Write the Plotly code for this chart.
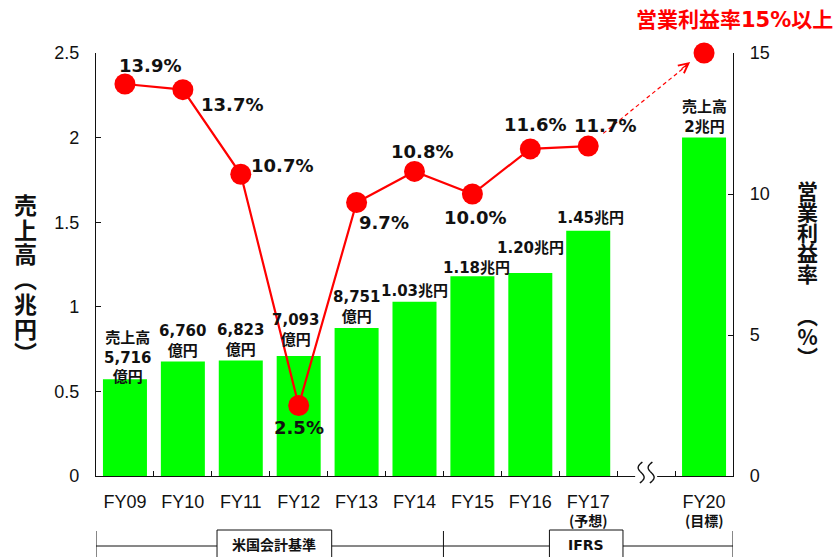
import math
import plotly.graph_objects as go

# ---------------- data ----------------
categories = ["FY09", "FY10", "FY11", "FY12", "FY13", "FY14", "FY15", "FY16", "FY17", " ", "FY20"]
x_tick_labels = ["FY09", "FY10", "FY11", "FY12", "FY13", "FY14", "FY15", "FY16", "FY17", "", "FY20"]
x_sub_labels = {"FY17": "(予想)", "FY20": "(目標)"}
sales = [0.5716, 0.6760, 0.6823, 0.7093, 0.8751, 1.03, 1.18, 1.20, 1.45, None, 2.0]
sales_labels = ["売上高<br>5,716<br>億円", "6,760<br>億円", "6,823<br>億円", "7,093<br>億円",
                "8,751<br>億円", "1.03兆円", "1.18兆円", "1.20兆円", "1.45兆円", "", "売上高<br>2兆円"]
margin_cats = ["FY09", "FY10", "FY11", "FY12", "FY13", "FY14", "FY15", "FY16", "FY17"]
op_margin = [13.9, 13.7, 10.7, 2.5, 9.7, 10.8, 10.0, 11.6, 11.7]
op_margin_labels = ["13.9%", "13.7%", "10.7%", "2.5%", "9.7%", "10.8%", "10.0%", "11.6%", "11.7%"]
target_cat = "FY20"
target_margin = 15
target_text = "営業利益率15%以上"
left_ticks = [0, 0.5, 1, 1.5, 2, 2.5]
right_ticks = [0, 5, 10, 15]
standard_names = ["米国会計基準", "IFRS"]
left_title = ["売", "上", "高", "︵", "兆", "円", "︶"]
right_title = ["営", "業", "利", "益", "率", " ", "︵", "%", "︶"]

# ---------------- styling / placement ----------------
GREEN = "#00FF00"
RED = "#FF0000"
NUM_FONT = "DejaVu Sans, Noto Sans CJK JP"
CJK_FONT = "Noto Sans CJK JP"
TICK_FONT = "Liberation Sans, Arial"

# pixel offsets of percent labels (dx right, dy down)
pct_offsets = [(25, -19), (49, 15), (41, -9), (0, 22), (27, 20), (7, -20), (3, 23), (5, -24), (17, -21)]
# pixel shifts of bar labels (dx right, dy up)
bar_label_shift = [(3, -9), (0, 0), (0, 0), (-3, 5), (0, 0), (0, 0), (4, -3), (0, 14), (2, 2), (0, 0), (0, 0)]

W, H = 837, 557
ML, MR, MT, MB = 96, 104, 53, 81
PW, PH = W - ML - MR, H - MT - MB


def px_to_paper_y(py):
    return (H - MB - py) / PH


def px_to_paper_x(px):
    return (px - ML) / PW


def vertical_text(chars, glyph_size):
    return "<br>".join(f"<span style='font-size:{glyph_size}px'>{c}</span>" for c in chars)


def squiggle_path(cx, top=14, bottom=-7, amp=3.6, steps=24):
    pts = []
    for k in range(steps + 1):
        t = k / steps
        y = top + (bottom - top) * t
        x = cx - amp * math.sin(2 * math.pi * t) + 2.5 * (0.5 - t)
        pts.append(f"{x:.2f} {y:.2f}")
    return "M " + " L ".join(pts)


fig = go.Figure()

fig.add_trace(go.Bar(
    x=categories, y=sales, width=0.76,
    marker=dict(color=GREEN, line=dict(width=0)),
    yaxis="y", hoverinfo="skip", showlegend=False,
))

fig.add_trace(go.Scatter(
    x=margin_cats, y=op_margin, mode="lines+markers", yaxis="y2",
    line=dict(color=RED, width=2.2),
    marker=dict(color=RED, size=21),
    cliponaxis=False, showlegend=False, hoverinfo="skip",
))

fig.add_trace(go.Scatter(
    x=[target_cat], y=[target_margin], mode="markers", yaxis="y2",
    marker=dict(color=RED, size=21), cliponaxis=False, showlegend=False, hoverinfo="skip",
))

annotations = []
shapes = []

# bar value labels
for i, (c, v, t) in enumerate(zip(categories, sales, sales_labels)):
    if v is None or not t:
        continue
    dx, dy = bar_label_shift[i]
    annotations.append(dict(
        x=c, y=v, xref="x", yref="y", text=t, showarrow=False,
        yanchor="bottom", xanchor="center", xshift=dx, yshift=dy,
        font=dict(family=NUM_FONT, size=15, color="#111", weight="bold"),
    ))

# percent labels
for (c, v, t), (dx, dy) in zip(zip(margin_cats, op_margin, op_margin_labels), pct_offsets):
    annotations.append(dict(
        x=c, y=v, xref="x", yref="y2", text=t, showarrow=False,
        xanchor="center", yanchor="middle", xshift=dx, yshift=-dy,
        font=dict(family=NUM_FONT, size=18, color="#111", weight="bold"),
    ))

# target title
annotations.append(dict(
    x=px_to_paper_x(835), y=px_to_paper_y(20), xref="paper", yref="paper",
    text=target_text, showarrow=False, xanchor="right", yanchor="middle",
    font=dict(family=NUM_FONT, size=21, color=RED, weight="bold"),
))

# dashed arrow from FY17 toward FY20 target
shapes.append(dict(
    type="line", xref="x", yref="y2", x0=8.26, y0=12.15, x1=9.74, y1=14.62,
    line=dict(color=RED, width=1.2, dash="4px,3px"),
))
annotations.append(dict(
    x=9.76, y=14.68, xref="x", yref="y2", text="", showarrow=True,
    ax=-10, ay=8, arrowhead=5, arrowsize=1.6, arrowwidth=1.2, arrowcolor=RED,
))

# sub labels under x ticks
for c, t in x_sub_labels.items():
    annotations.append(dict(
        x=c, y=px_to_paper_y(520), xref="x", yref="paper", text=t, showarrow=False,
        xanchor="center", yanchor="middle",
        font=dict(family=CJK_FONT, size=14, color="#111", weight="bold"),
    ))

# axis titles (vertical writing)
annotations.append(dict(
    x=px_to_paper_x(25), y=px_to_paper_y(201), xref="paper", yref="paper",
    text=vertical_text(left_title, 23), showarrow=False, xanchor="center", yanchor="top",
    yshift=16, font=dict(family=CJK_FONT, size=19, color="#111", weight="bold"),
))
annotations.append(dict(
    x=px_to_paper_x(807), y=px_to_paper_y(187), xref="paper", yref="paper",
    text=vertical_text(right_title, 21), showarrow=False, xanchor="center", yanchor="top",
    yshift=14, font=dict(family=CJK_FONT, size=16, color="#111", weight="bold"),
))

# axis break on the x axis in the empty slot (paper y so it is not clipped)
shapes.append(dict(
    type="rect", xref="x", yref="paper", xsizemode="pixel", ysizemode="pixel",
    xanchor=9, yanchor=0, x0=-11, x1=11, y0=-3, y1=3,
    fillcolor="white", line=dict(width=0), layer="above",
))
for cx in (-5, 5):
    shapes.append(dict(
        type="path", xref="x", yref="paper", xsizemode="pixel", ysizemode="pixel",
        xanchor=9, yanchor=0, path=squiggle_path(cx),
        line=dict(color="#111", width=1.4), layer="above",
    ))

# accounting standards band below the axis
y_line = px_to_paper_y(546)
y_vtop = px_to_paper_y(531)
y_btop = px_to_paper_y(530)
y_bot = px_to_paper_y(575)
shapes.append(dict(type="line", xref="x", yref="paper", x0=-0.5, x1=10.5, y0=y_line, y1=y_line,
                   line=dict(color="#111", width=1)))
for xv in (-0.5, 5.5, 10.5):
    shapes.append(dict(type="line", xref="x", yref="paper", x0=xv, x1=xv, y0=y_vtop, y1=y_bot,
                       line=dict(color="#111", width=1)))
for name, (bx0, bx1) in zip(standard_names, [(1.59, 3.57), (7.33, 8.60)]):
    shapes.append(dict(type="rect", xref="x", yref="paper", x0=bx0, x1=bx1, y0=y_btop, y1=y_bot,
                       fillcolor="white", line=dict(color="#111", width=1)))
    annotations.append(dict(
        x=(bx0 + bx1) / 2, y=px_to_paper_y(545), xref="x", yref="paper", text=name,
        showarrow=False, xanchor="center", yanchor="middle",
        font=dict(family=NUM_FONT, size=14, color="#111", weight="bold"),
    ))

axis_common = dict(
    showline=True, linecolor="#111", linewidth=1.3, ticks="inside", ticklen=5,
    tickcolor="#111", tickwidth=1, showgrid=False, zeroline=False,
    tickfont=dict(family=TICK_FONT, size=18, color="#111"),
)

fig.update_layout(
    width=W, height=H,
    margin=dict(l=ML, r=MR, t=MT, b=MB, pad=0),
    paper_bgcolor="white", plot_bgcolor="white",
    xaxis=dict(
        type="category", categoryorder="array", categoryarray=categories,
        range=[-0.5, 10.5], tickvals=categories, ticktext=x_tick_labels,
        tickson="boundaries", ticklabelstandoff=9, **axis_common,
    ),
    yaxis=dict(range=[0, 2.5], tickvals=left_ticks, ticklabelstandoff=12, **axis_common),
    yaxis2=dict(range=[0, 15], tickvals=right_ticks, overlaying="y", side="right",
                ticklabelstandoff=12, **axis_common),
    annotations=annotations,
    shapes=shapes,
    showlegend=False,
    hovermode=False,
)

fig.write_html(
    "out.html",
    config={"displayModeBar": False},
    post_script="document.body.style.margin='0px';document.body.style.padding='0px';",
)
